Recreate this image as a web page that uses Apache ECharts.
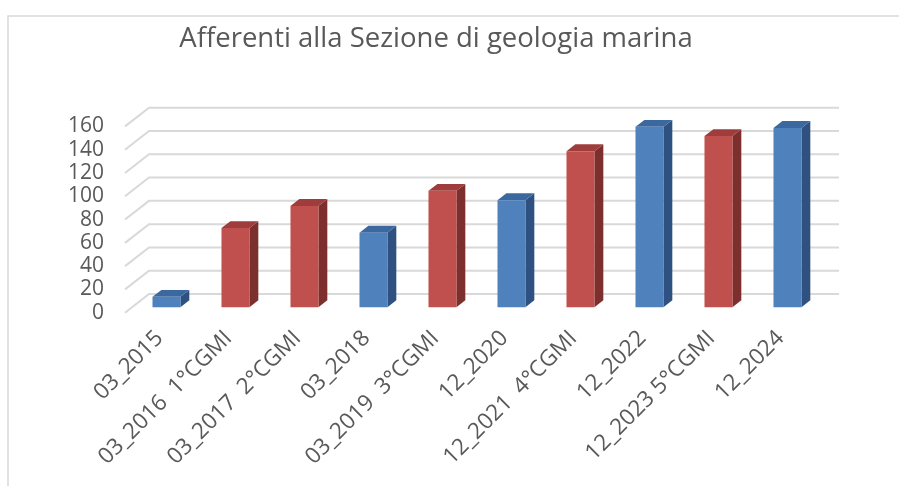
<!DOCTYPE html>
<html>
<head>
<meta charset="utf-8">
<script src="https://cdn.jsdelivr.net/npm/echarts@6/dist/echarts.min.js"></script>
<style>
  html, body { margin: 0; padding: 0; background: #ffffff; }
  #chart { width: 899px; height: 486px; }
</style>
</head>
<body>
<div id="chart"></div>
<script>
// dati
var categories = ['03_2015', '03_2016  1°CGMI', '03_2017  2°CGMI', '03_2018', '03_2019  3°CGMI',
                  '12_2020', '12_2021  4°CGMI', '12_2022', '12_2023 5°CGMI', '12_2024'];
var afferenti = [9, 68, 87, 64, 100, 92, 134, 155, 147, 154];
var yTicks = [0, 20, 40, 60, 80, 100, 120, 140, 160];

// profondita' della "scatola" 3D (pixel)
var DEPTH_X = 24, DEPTH_Y = -18.7;
var BAR_FRONT = 0.29, BAR_BACK = 0.66;

var myChart = echarts.init(document.getElementById('chart'));

function barColors(name) {
    if (name.indexOf('CGMI') >= 0) {
        return {front: '#C0504D', side: '#7D2F2D', top: '#9E3D3B'};
    }
    return {front: '#4F81BD', side: '#2F5181', top: '#3C68A0'};
}

function renderGrid(params, api) {
    var cs = params.coordSys;
    var v = api.value(0);
    var y = api.coord([0, v])[1];
    var x0 = cs.x, x1 = cs.x + cs.width;
    return {
        type: 'polyline',
        shape: {points: [[x0, y], [x0 + DEPTH_X, y + DEPTH_Y], [x1 + DEPTH_X, y + DEPTH_Y]]},
        style: {stroke: '#D9D9D9', lineWidth: 2, fill: null}
    };
}

function renderBar(params, api) {
    var i = api.value(0);
    var top = api.coord([i, api.value(1)]);
    var bottom = api.coord([i, 0]);
    var band = api.size([1, 0])[0];
    var w = band * 0.405;
    var ox = DEPTH_X * BAR_FRONT, oy = DEPTH_Y * BAR_FRONT;
    var dx = DEPTH_X * (BAR_BACK - BAR_FRONT), dy = DEPTH_Y * (BAR_BACK - BAR_FRONT);
    var xl = top[0] - w / 2 + ox, xr = top[0] + w / 2 + ox;
    var yt = top[1] + oy, yb = bottom[1] + oy;
    var c = barColors(categories[i]);
    return {
        type: 'group',
        children: [
            {type: 'polygon', shape: {points: [[xr, yt], [xr + dx, yt + dy], [xr + dx, yb + dy], [xr, yb]]},
                style: {fill: c.side}},
            {type: 'polygon', shape: {points: [[xl, yt], [xl + dx, yt + dy], [xr + dx, yt + dy], [xr, yt]]},
                style: {fill: c.top}},
            {type: 'rect', shape: {x: xl, y: yt, width: xr - xl, height: yb - yt},
                style: {fill: c.front}}
        ]
    };
}

var option = {
    animation: false,
    backgroundColor: '#ffffff',
    title: {
        text: 'Afferenti alla Sezione di geologia marina',
        left: 431,
        textAlign: 'center',
        top: 20,
        textStyle: {fontFamily: 'Open Sans', fontSize: 27.5, fontWeight: 'normal', color: '#595959'}
    },
    graphic: [{
        type: 'polyline',
        shape: {points: [[8, 490], [8, 16], [905, 16]]},
        style: {stroke: '#D9D9D9', lineWidth: 1.5, fill: null},
        silent: true
    }],
    grid: {left: 125, right: 84, top: 126.4, bottom: 173.3},
    xAxis: {
        type: 'category',
        data: categories,
        axisLine: {show: false},
        axisTick: {show: false},
        axisLabel: {
            interval: 0, rotate: 45, margin: 22,
            fontFamily: 'Open Sans', fontSize: 22.5, color: '#595959'
        }
    },
    yAxis: {
        type: 'value',
        min: 0, max: 160, interval: 20,
        splitLine: {show: false},
        axisLine: {show: false},
        axisTick: {show: false},
        axisLabel: {margin: 21, fontFamily: 'Open Sans', fontSize: 21, color: '#595959'}
    },
    series: [{
        type: 'custom',
        name: 'griglia',
        renderItem: renderGrid,
        data: yTicks.map(function (t) { return [t]; }),
        encode: {y: 0},
        z: 1,
        silent: true
    }, {
        type: 'custom',
        name: 'Afferenti',
        renderItem: renderBar,
        data: afferenti.map(function (v, i) { return [i, v]; }),
        encode: {x: 0, y: 1},
        z: 2
    }]
};

myChart.setOption(option);
</script>
</body>
</html>
